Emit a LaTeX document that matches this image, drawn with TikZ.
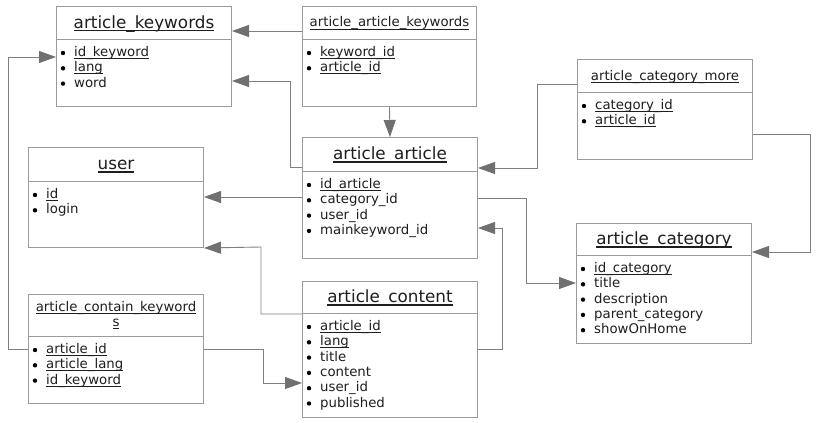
\documentclass[tikz,border=0pt]{standalone}
\usepackage{fontspec}
\setmainfont{DejaVu Sans}
\usetikzlibrary{arrows.meta,calc}
\definecolor{boxc}{RGB}{155,155,155}
\definecolor{linec}{RGB}{128,128,128}
\definecolor{arrc}{RGB}{112,112,112}
\definecolor{txtc}{RGB}{30,30,30}
\newcommand\ul[1]{\setbox0\hbox{#1}\rlap{\rule[-0.18em]{\wd0}{0.065em}}\box0}
\tikzset{
 box/.style={draw=boxc, line width=1pt, fill=white, inner sep=0pt, rectangle},
 sepline/.style={draw=boxc, line width=1pt},
 bigt/.style={font=\fontsize{16.8}{18}\selectfont, text=txtc, anchor=base, yshift=-5.5pt, inner sep=0pt},
 smallt/.style={font=\fontsize{13.3}{15}\selectfont, text=txtc, anchor=base, yshift=-4.5pt, inner sep=0pt},
 twot/.style={font=\fontsize{13.3}{15}\selectfont, text=txtc, anchor=center, align=center, inner sep=0pt},
 item/.style={font=\fontsize{13.3}{15}\selectfont, text=txtc, anchor=base west, inner sep=0pt},
 conn/.style={draw=linec, line width=0.9pt, -{Triangle[length=17pt,width=12pt,color=arrc]}},
}
\newcommand\tbl[9]{%
  \node[box, minimum width=#4pt, minimum height=#5pt, anchor=north west] (#1) at (#2,#3) {};
  \coordinate (#1-sl) at ($(#1.north west)+(0,#6)$);
  \draw[sepline] (#1-sl) -- (#1-sl -| #1.east);
  \node[#7] (#1-title) at ($(#1.north)!0.5!(#1-sl -| #1.north)$) {#8};
  \foreach \t [count=\i] in {#9} {
    \node[item] (#1-\i) at ($(#1-sl)+(18,17.5+15.3*\i-15.3)$) {\t};
    \fill[black] ($(#1-sl)+(7,14+15.3*\i-15.3)$) circle (2.2pt);
  }
}
\begin{document}
\begin{tikzpicture}[x=1pt,y=-1pt]
\useasboundingbox (0,0) rectangle (817,423);
\tbl{ak}{56}{6}{175}{100}{33}{bigt}{\ul{article\_keywords}}{{\ul{id\_keyword}},{\ul{lang}},word}
\tbl{aak}{302}{6}{174}{100}{33}{smallt}{\ul{article\_article\_keywords}}{{\ul{keyword\_id}},{\ul{article\_id}}}
\tbl{acm}{577}{59}{175}{100}{33}{smallt}{\ul{article\_category\_more}}{{\ul{category\_id}},{\ul{article\_id}}}
\tbl{user}{28}{147}{175}{100}{34}{bigt}{\ul{user}}{{\ul{id}},login}
\tbl{aa}{302}{137}{175}{121}{34}{bigt}{\ul{article\_article}}{{\ul{id\_article}},category\_id,user\_id,mainkeyword\_id}
\tbl{ac}{576}{223}{175}{120}{32}{bigt}{\ul{article\_category}}{{\ul{id\_category}},title,description,parent\_category,showOnHome}
\tbl{ack}{28}{294}{175}{109}{42}{twot}{\ul{article\_contain\_keyword}\\\ul{s}}{{\ul{article\_id}},{\ul{article\_lang}},{\ul{id\_keyword}}}
\tbl{acon}{302}{281}{175}{136}{32}{bigt}{\ul{article\_content}}{{\ul{article\_id}},{\ul{lang}},title,content,user\_id,published}
% connectors
\draw[conn] (aak.west |- 0,31) -- (ak.east |- 0,31);
\draw[conn] (aak.south) -- (aa.north);
\draw[conn] (aa.west |- 0,167) -- (290,167) -- (290,81) -- (ak.east |- 0,81);
\draw[conn] (ack.west |- 0,349) -- (8,349) -- (8,57) -- (ak.west |- 0,57);
\draw[conn] (acm.west |- 0,84) -- (537,84) -- (537,168) -- (aa.east |- 0,168);
\draw[conn] (acm.east |- 0,134) -- (810,134) -- (810,252) -- (ac.east |- 0,252);
\draw[conn] (aa.west |- 0,197) -- (user.east |- 0,197);
\draw[conn] (aa.east |- 0,198) -- (526,198) -- (526,283) -- (ac.west |- 0,283);
\draw[conn] (acon.east |- 0,349) -- (502,349) -- (502,228) -- (aa.east |- 0,228);
\draw[conn] (acon.west |- 0,314) -- (261,314) -- (261,247) -- (user.south east);
\draw[conn] (ack.east |- 0,349) -- (263,349) -- (263,383) -- (acon.west |- 0,383);
\end{tikzpicture}
\end{document}
